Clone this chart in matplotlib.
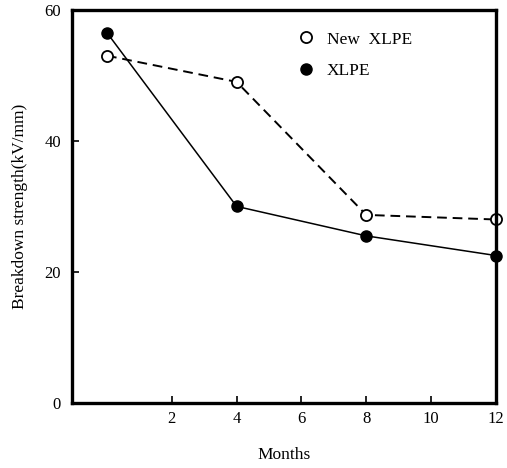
import matplotlib
matplotlib.use('Agg')
import matplotlib.pyplot as plt
from matplotlib.lines import Line2D

months = [0, 4, 8, 12]
new_xlpe = [53.0, 49.0, 28.7, 28.0]
xlpe = [56.5, 30.0, 25.5, 22.5]

plt.rcParams['font.family'] = ['Liberation Serif', 'DejaVu Serif']

fig = plt.figure(figsize=(5.07, 4.68), dpi=100)
ax = fig.add_axes([0.142, 0.139, 0.836, 0.840])

ax.plot(months, new_xlpe, color='black', linestyle=(0, (5, 3)), linewidth=1.4,
        marker='o', markersize=8, markerfacecolor='white', markeredgewidth=1.3,
        clip_on=False)
ax.plot(months, xlpe, color='black', linestyle='-', linewidth=1.1,
        marker='o', markersize=8, markerfacecolor='black', clip_on=False)

ax.set_xlim(-1.08, 12)
ax.set_ylim(0, 60)
ax.set_xticks([2, 4, 6, 8, 10, 12])
ax.set_yticks([0, 20, 40, 60])
ax.tick_params(direction='in', length=5, width=1.2, labelsize=12)
ax.tick_params(axis='x', pad=6)
ax.tick_params(axis='y', pad=8)
for s in ax.spines.values():
    s.set_linewidth(2.4)

ax.set_xlabel('Months', fontsize=12.5, labelpad=14)
ax.set_ylabel('Breakdown strength(kV/mm)', fontsize=12.5, labelpad=12)

handles = [
    Line2D([], [], color='black', linestyle='none', marker='o', markersize=8,
           markerfacecolor='white', markeredgewidth=1.3),
    Line2D([], [], color='black', linestyle='none', marker='o', markersize=8,
           markerfacecolor='black'),
]
ax.legend(handles, ['New  XLPE', 'XLPE'], loc='upper left',
          bbox_to_anchor=(0.49, 0.985), frameon=False, fontsize=12.5,
          handletextpad=0.6, labelspacing=0.9, handlelength=1.2)

fig.savefig('out.png', dpi=100)
